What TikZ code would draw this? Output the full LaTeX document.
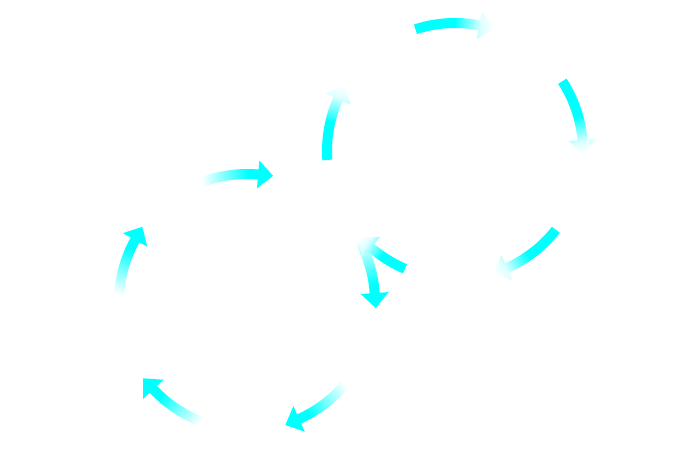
\documentclass[tikz,border=0pt]{standalone}
\usepackage{tikz}

% colour runs along each arrow, tail at the top of the local frame
\pgfdeclareverticalshading{cyanrise}{100bp}{color(0bp)=(cyan); color(41bp)=(cyan); color(71bp)=(white); color(100bp)=(white)}
\pgfdeclareverticalshading{cyanfall}{100bp}{color(0bp)=(white); color(25bp)=(white); color(33bp)=(cyan!12!white); color(50bp)=(cyan); color(100bp)=(cyan)}

\def\cycrad{2.56}
\def\stemw{0.1}
\def\headw{0.28}
\def\headl{0.3}

% #1 centre, #2 tail angle, #3 head angle, #4 shading
\newcommand{\cycarrow}[4]{%
  \pgfmathsetmacro{\midang}{(#2+#3-7)/2}
  \pgfmathsetmacro{\tailang}{#2-\midang}
  \pgfmathsetmacro{\headang}{#3-\midang}
  \begin{scope}[transform canvas={rotate around={\midang:(#1)}}]
    \shade[shading=#4, shift={(#1)}]
      (\tailang:\cycrad+\stemw) arc[start angle=\tailang, end angle=\headang, radius=\cycrad+\stemw]
      -- (\headang:\cycrad+\headw)
      -- ([shift={(\headang-90:\headl)}]\headang:\cycrad)
      -- (\headang:\cycrad-\headw)
      -- (\headang:\cycrad-\stemw)
      arc[start angle=\headang, end angle=\tailang, radius=\cycrad-\stemw] -- cycle;
  \end{scope}}

\begin{document}
\begin{tikzpicture}
    \useasboundingbox (0,0) rectangle (13.8,9.02);
    \coordinate (lcentre) at (4.94,2.98);
    \coordinate (rcentre) at (9.10,6.00);
    % left cycle
    \cycarrow{lcentre}{113}{85}{cyanrise}
    \cycarrow{lcentre}{31}{4}{cyanrise}
    \cycarrow{lcentre}{-38}{-66}{cyanrise}
    \cycarrow{lcentre}{-109}{-137}{cyanrise}
    \cycarrow{lcentre}{179}{151}{cyanrise}
    % right cycle
    \cycarrow{rcentre}{108}{79}{cyanfall}
    \cycarrow{rcentre}{33}{5}{cyanfall}
    \cycarrow{rcentre}{-38}{-66}{cyanfall}
    \cycarrow{rcentre}{-113}{-131}{cyanfall}
    \cycarrow{rcentre}{184}{156}{cyanfall}
\end{tikzpicture}
\end{document}
